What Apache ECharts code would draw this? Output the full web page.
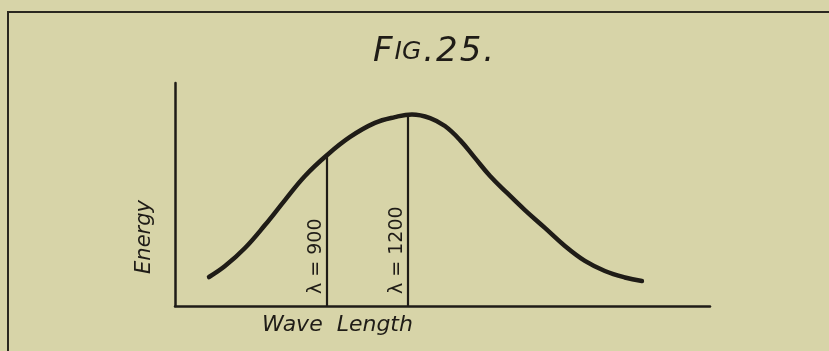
<!DOCTYPE html>
<html>
<head>
<meta charset="utf-8">
<script src="https://cdn.jsdelivr.net/npm/echarts@6/dist/echarts.min.js"></script>
<style>
html,body{margin:0;padding:0;background:#d7d4a8;}
#chart{width:829px;height:351px;}
</style>
</head>
<body>
<div id="chart"></div>
<script>
// Curve: wave length (scaled so the marked lines fall at 900 and 1200) vs energy (0-100)
const wavelengths = [466, 525, 599, 673, 747, 821, 903, 988, 1080, 1154, 1217, 1284, 1339, 1395, 1450, 1506, 1569, 1635, 1709, 1783, 1857, 1931, 2005, 2068];
const energy      = [13.0, 17.9, 26.0, 36.3, 47.5, 58.3, 67.7, 75.8, 82.1, 84.7, 85.9, 84.3, 80.7, 74.4, 66.4, 58.3, 50.7, 43.0, 35.0, 26.9, 20.2, 15.7, 12.8, 11.2];
const markerLambda = [900, 1200];
const markerTop    = [67.5, 85.7];
const markerLabels = ['λ = 900', 'λ = 1200'];
const xName = 'Wave  Length';
const yName = 'Energy';

const ink = '#1f1c17';
const curveData = wavelengths.map((w, i) => [w, energy[i]]);
const markLines = markerLambda.map((w, i) => [
  { coord: [w, 0], label: { formatter: markerLabels[i] } },
  { coord: [w, markerTop[i]] }
]);

const big = { fontSize: 34, fontStyle: 'italic', fontWeight: 'normal', fontFamily: 'DejaVu Sans', color: ink, padding: [0, 2, 0, 0] };
const small = { fontSize: 25, fontStyle: 'italic', fontWeight: 'normal', fontFamily: 'DejaVu Sans', color: ink, padding: [0, 2, 0, 0] };

const chart = echarts.init(document.getElementById('chart'), null, { renderer: 'canvas' });
chart.setOption({
  animation: false,
  backgroundColor: '#d7d4a8',
  title: {
    text: '{a|F}{b|IG}{a|.}{a|2}{a|5}{a|.}',
    left: 373,
    top: 35,
    padding: 0,
    textStyle: { rich: { a: big, b: small } }
  },
  graphic: [{
    type: 'polyline',
    silent: true,
    shape: { points: [[829, 12], [8, 12], [8, 351]] },
    style: { stroke: '#2a2820', lineWidth: 2, fill: null }
  }],
  grid: { left: 175, right: 119, top: 83, bottom: 45, outerBoundsMode: 'none', containLabel: false },
  xAxis: {
    type: 'value', min: 340, max: 2320,
    name: xName, nameLocation: 'middle', nameGap: 8,
    nameTextStyle: { fontSize: 22, fontStyle: 'italic', fontFamily: 'DejaVu Sans', color: ink, verticalAlign: 'top', padding: [0, 210, 0, 0] },
    axisLine: { show: true, onZero: false, lineStyle: { color: ink, width: 2.5 } },
    axisTick: { show: false }, axisLabel: { show: false }, splitLine: { show: false }
  },
  yAxis: {
    type: 'value', min: 0, max: 100,
    name: yName, nameLocation: 'middle', nameRotate: 90, nameGap: 20,
    nameTextStyle: { fontSize: 21, fontStyle: 'italic', fontFamily: 'DejaVu Sans', color: ink, padding: [0, 85, 0, 0] },
    axisLine: { show: true, onZero: false, lineStyle: { color: ink, width: 2.5 } },
    axisTick: { show: false }, axisLabel: { show: false }, splitLine: { show: false }
  },
  series: [{
    type: 'line',
    data: curveData,
    smooth: 0.4,
    symbol: 'none',
    silent: true,
    lineStyle: { color: ink, width: 4.5, cap: 'round' },
    markLine: {
      silent: true,
      symbol: ['none', 'none'],
      lineStyle: { color: ink, width: 2.2, type: 'solid' },
      label: {
        show: true,
        position: 'insideStartTop',
        distance: [12, 1],
        fontSize: 19,
        fontFamily: 'DejaVu Sans',
        color: ink
      },
      emphasis: { disabled: true },
      data: markLines
    }
  }]
});
</script>
</body>
</html>
